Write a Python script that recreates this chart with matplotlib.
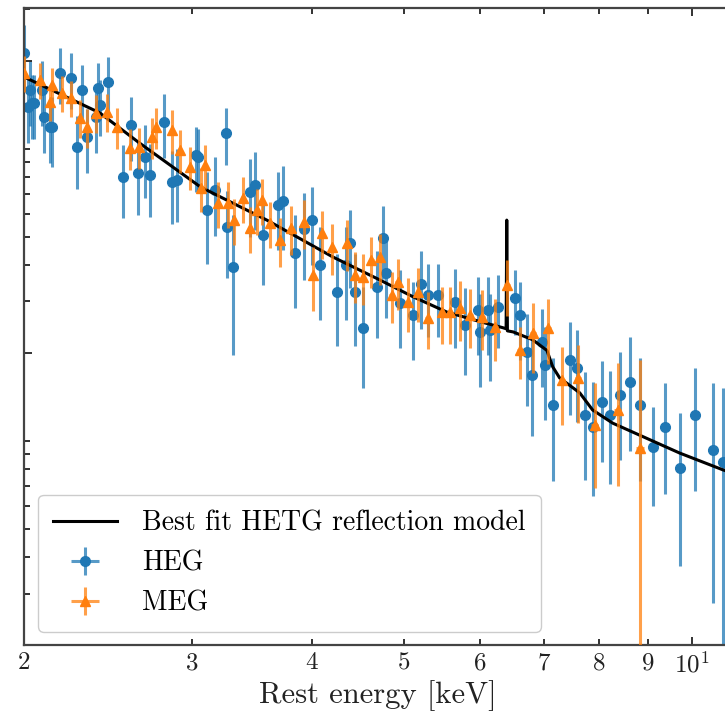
import numpy as np
import matplotlib.pyplot as plt
from matplotlib import ticker

plt.rcParams.update({
    "font.family": "serif",
    "font.serif": ["cmr10"],
    "mathtext.fontset": "cm",
    "axes.formatter.use_mathtext": True,
    "axes.unicode_minus": False,
})

# Flux in arbitrary units (the y labels are cut off in the original figure)
MODEL_E = [2.00, 2.40, 2.64, 3.06, 3.59, 4.21, 4.71, 5.10, 5.54, 6.00, 6.34, 6.39,
           6.40, 6.41, 6.50, 6.81, 7.05, 7.15, 7.27, 7.63, 7.87, 8.26, 9.04, 9.71,
           10.77, 11.5]
MODEL_F = [88.1, 66.4, 52.4, 37.0, 28.5, 21.3, 17.8, 15.6, 13.8, 12.8, 12.2, 12.1,
           28.5, 11.9, 11.8, 11.1, 10.2, 8.96, 8.21, 7.30, 6.38, 5.75, 5.04, 4.54,
           3.98, 3.70]

HEG_E = [2.00, 2.03, 2.05, 2.02, 2.10, 2.13, 2.18, 2.24, 2.30, 2.27, 2.33, 2.39,
         2.45, 2.40, 2.54, 2.63, 2.71, 2.80, 2.86, 2.89, 2.59, 3.03, 3.25, 3.04,
         3.11, 3.31, 3.49, 3.45, 3.26, 3.56, 3.69, 3.84, 4.00, 4.08, 4.25, 4.39,
         4.44, 4.53, 4.68, 4.75, 4.78, 4.95, 5.10, 5.29, 5.42, 5.65, 5.79, 5.97,
         6.00, 6.12, 6.14, 6.26, 6.53, 6.61, 6.72, 6.80, 7.15, 6.96, 7.02, 7.45,
         7.58, 7.73, 7.88, 8.05, 8.20, 8.40, 8.61, 8.82, 9.10, 9.37, 9.71, 10.07,
         10.51, 10.77,
         2.09, 2.14, 2.04, 2.38, 3.73, 3.93, 4.34, 5.20, 2.68, 3.17]
HEG_F = [106, 79.6, 71.8, 69.6, 64.3, 59.4, 91.0, 87.5, 79.6, 50.7, 54.9, 80.8,
         84.7, 70.7, 40.1, 41.3, 40.7, 61.8, 38.5, 39.1, 60.4, 47.6, 56.6, 46.9,
         30.9, 19.7, 37.6, 35.6, 27.0, 25.4, 32.1, 22.0, 28.5, 20.0, 16.2, 23.8,
         16.2, 12.2, 16.8, 24.8, 18.8, 14.8, 13.5, 15.8, 15.8, 14.9, 12.5, 14.0,
         11.8, 14.0, 12.0, 14.4, 15.4, 13.5, 10.1, 8.41, 6.64, 10.9, 9.10, 9.46,
         8.89, 6.13, 5.58, 6.80, 6.13, 7.18, 7.96, 6.64, 4.76, 5.58, 4.04, 6.13,
         4.65, 4.23,
         79.6, 59.4, 71.8, 64.3, 33.0, 26.5, 20.0, 17.2, 47.0, 36.0]
# relative 1-sigma errors
HEG_REL = [0.25, 0.25, 0.25, 0.25, 0.25, 0.25, 0.22, 0.22, 0.22, 0.28, 0.25, 0.22,
           0.22, 0.22, 0.28, 0.28, 0.28, 0.25, 0.28, 0.28, 0.25, 0.25, 0.22, 0.25,
           0.35, 0.50, 0.30, 0.30, 0.33, 0.33, 0.30, 0.35, 0.30, 0.35, 0.35, 0.30,
           0.35, 0.38, 0.33, 0.28, 0.30, 0.30, 0.30, 0.28, 0.28, 0.30, 0.33, 0.30,
           0.35, 0.30, 0.33, 0.28, 0.25, 0.30, 0.35, 0.38, 0.45, 0.30, 0.35, 0.35,
           0.35, 0.40, 0.42, 0.38, 0.42, 0.40, 0.42, 0.45, 0.37, 0.41, 0.54, 0.45,
           0.70, 0.80,
           0.25, 0.27, 0.25, 0.25, 0.32, 0.33, 0.35, 0.30, 0.28, 0.30]

MEG_E = [2.00, 2.08, 2.14, 2.13, 2.19, 2.24, 2.29, 2.33, 2.38, 2.44, 2.50, 2.58,
         2.64, 2.72, 2.75, 2.86, 2.91, 2.98, 3.09, 3.06, 3.19, 3.27, 3.32, 3.39,
         3.45, 3.51, 3.55, 3.62, 3.71, 3.81, 3.93, 4.01, 4.10, 4.20, 4.35, 4.44,
         4.53, 4.62, 4.71, 4.85, 4.92, 5.04, 5.17, 5.29, 5.47, 5.58, 5.72, 5.86,
         6.03, 6.22, 6.40, 6.61, 6.82, 7.07, 7.31, 7.60, 7.91, 8.36, 8.82]
MEG_F = [91.0, 86.0, 82.7, 72.4, 77.7, 74.7, 63.8, 59.4, 66.4, 66.9, 59.4, 50.4,
         50.7, 54.9, 59.4, 58.0, 49.6, 43.4, 44.0, 36.7, 32.6, 32.6, 28.5, 33.9,
         26.8, 30.9, 33.4, 27.9, 24.4, 26.8, 28.1, 18.5, 25.8, 23.1, 23.8, 18.5,
         18.2, 20.8, 21.3, 15.8, 17.5, 14.9, 16.2, 13.2, 13.8, 13.8, 14.3, 13.5,
         13.3, 12.3, 17.1, 10.2, 11.7, 12.2, 8.08, 8.21, 5.67, 6.38, 4.73]
MEG_REL = [0.14, 0.14, 0.14, 0.14, 0.14, 0.14, 0.15, 0.15, 0.15, 0.15, 0.16, 0.16,
           0.16, 0.16, 0.16, 0.17, 0.17, 0.17, 0.17, 0.17, 0.18, 0.18, 0.18, 0.18,
           0.18, 0.18, 0.18, 0.18, 0.19, 0.19, 0.19, 0.25, 0.19, 0.20, 0.20, 0.20,
           0.20, 0.20, 0.20, 0.20, 0.20, 0.21, 0.21, 0.22, 0.22, 0.22, 0.23, 0.23,
           0.23, 0.24, 0.22, 0.20, 0.27, 0.25, 0.30, 0.30, 0.39, 0.45, 1.00]

# grating bins are constant in wavelength
HALF_BIN_A = 0.0133
HC = 12.398

BLUE = "#1f77b4"
ORANGE = "#ff7f0e"


def half_width(energy):
    energy = np.asarray(energy)
    return energy ** 2 * HALF_BIN_A / HC


fig = plt.figure(figsize=(7.25, 7.16), dpi=100)
ax = fig.add_axes([24 / 725, 71 / 716, 726 / 725, 637 / 716])

heg = ax.errorbar(HEG_E, HEG_F, yerr=np.array(HEG_F) * np.array(HEG_REL),
                  xerr=half_width(HEG_E), fmt="o", color=BLUE, ms=7,
                  elinewidth=2.2, ecolor=(0.12, 0.47, 0.71, 0.75), capsize=0,
                  zorder=1, label="HEG")
model, = ax.plot(MODEL_E, MODEL_F, color="k", lw=2.2, zorder=2,
                 label="Best fit HETG reflection model")
meg = ax.errorbar(MEG_E, MEG_F, yerr=np.array(MEG_F) * np.array(MEG_REL),
                  xerr=half_width(MEG_E), fmt="^", color=ORANGE, ms=7,
                  elinewidth=2.2, ecolor=(1.0, 0.5, 0.05, 0.75), capsize=0,
                  zorder=3, label="MEG")

ax.set_xscale("log")
ax.set_yscale("log")
ax.set_xlim(2, 11.5)
ax.set_ylim(1, 151.7)

ax.xaxis.set_major_locator(ticker.LogLocator(base=10))
ax.xaxis.set_minor_locator(ticker.LogLocator(base=10, subs=np.arange(2, 10)))
ax.xaxis.set_major_formatter(ticker.LogFormatterSciNotation())
ax.xaxis.set_minor_formatter(ticker.FuncFormatter(lambda v, p: f"{v:g}"))
ax.yaxis.set_major_locator(ticker.LogLocator(base=10))
ax.yaxis.set_minor_locator(ticker.LogLocator(base=10, subs=np.arange(1.5, 5.01, 0.5)))
ax.yaxis.set_major_formatter(ticker.NullFormatter())
ax.yaxis.set_minor_formatter(ticker.NullFormatter())

ax.tick_params(which="both", direction="in", top=True, right=True,
               width=1.3, labelsize=18, pad=5, colors="#222222")
ax.tick_params(which="major", length=6)
ax.tick_params(which="minor", length=4.5)
for sp in ax.spines.values():
    sp.set_linewidth(1.6)
    sp.set_color("#444444")

ax.set_xlabel("Rest energy [keV]", fontsize=22, color="#222222")
ax.xaxis.set_label_coords(354 / 726, -0.055)

ax.legend([model, heg, meg],
          ["Best fit HETG reflection model", "HEG", "MEG"],
          loc="lower left", bbox_to_anchor=(14 / 726, 13 / 637),
          borderaxespad=0, fontsize=20, handlelength=2.3, handletextpad=0.9,
          labelspacing=0.5, borderpad=0.55, framealpha=1, edgecolor="#cccccc")

fig.savefig("out.png", dpi=100)
